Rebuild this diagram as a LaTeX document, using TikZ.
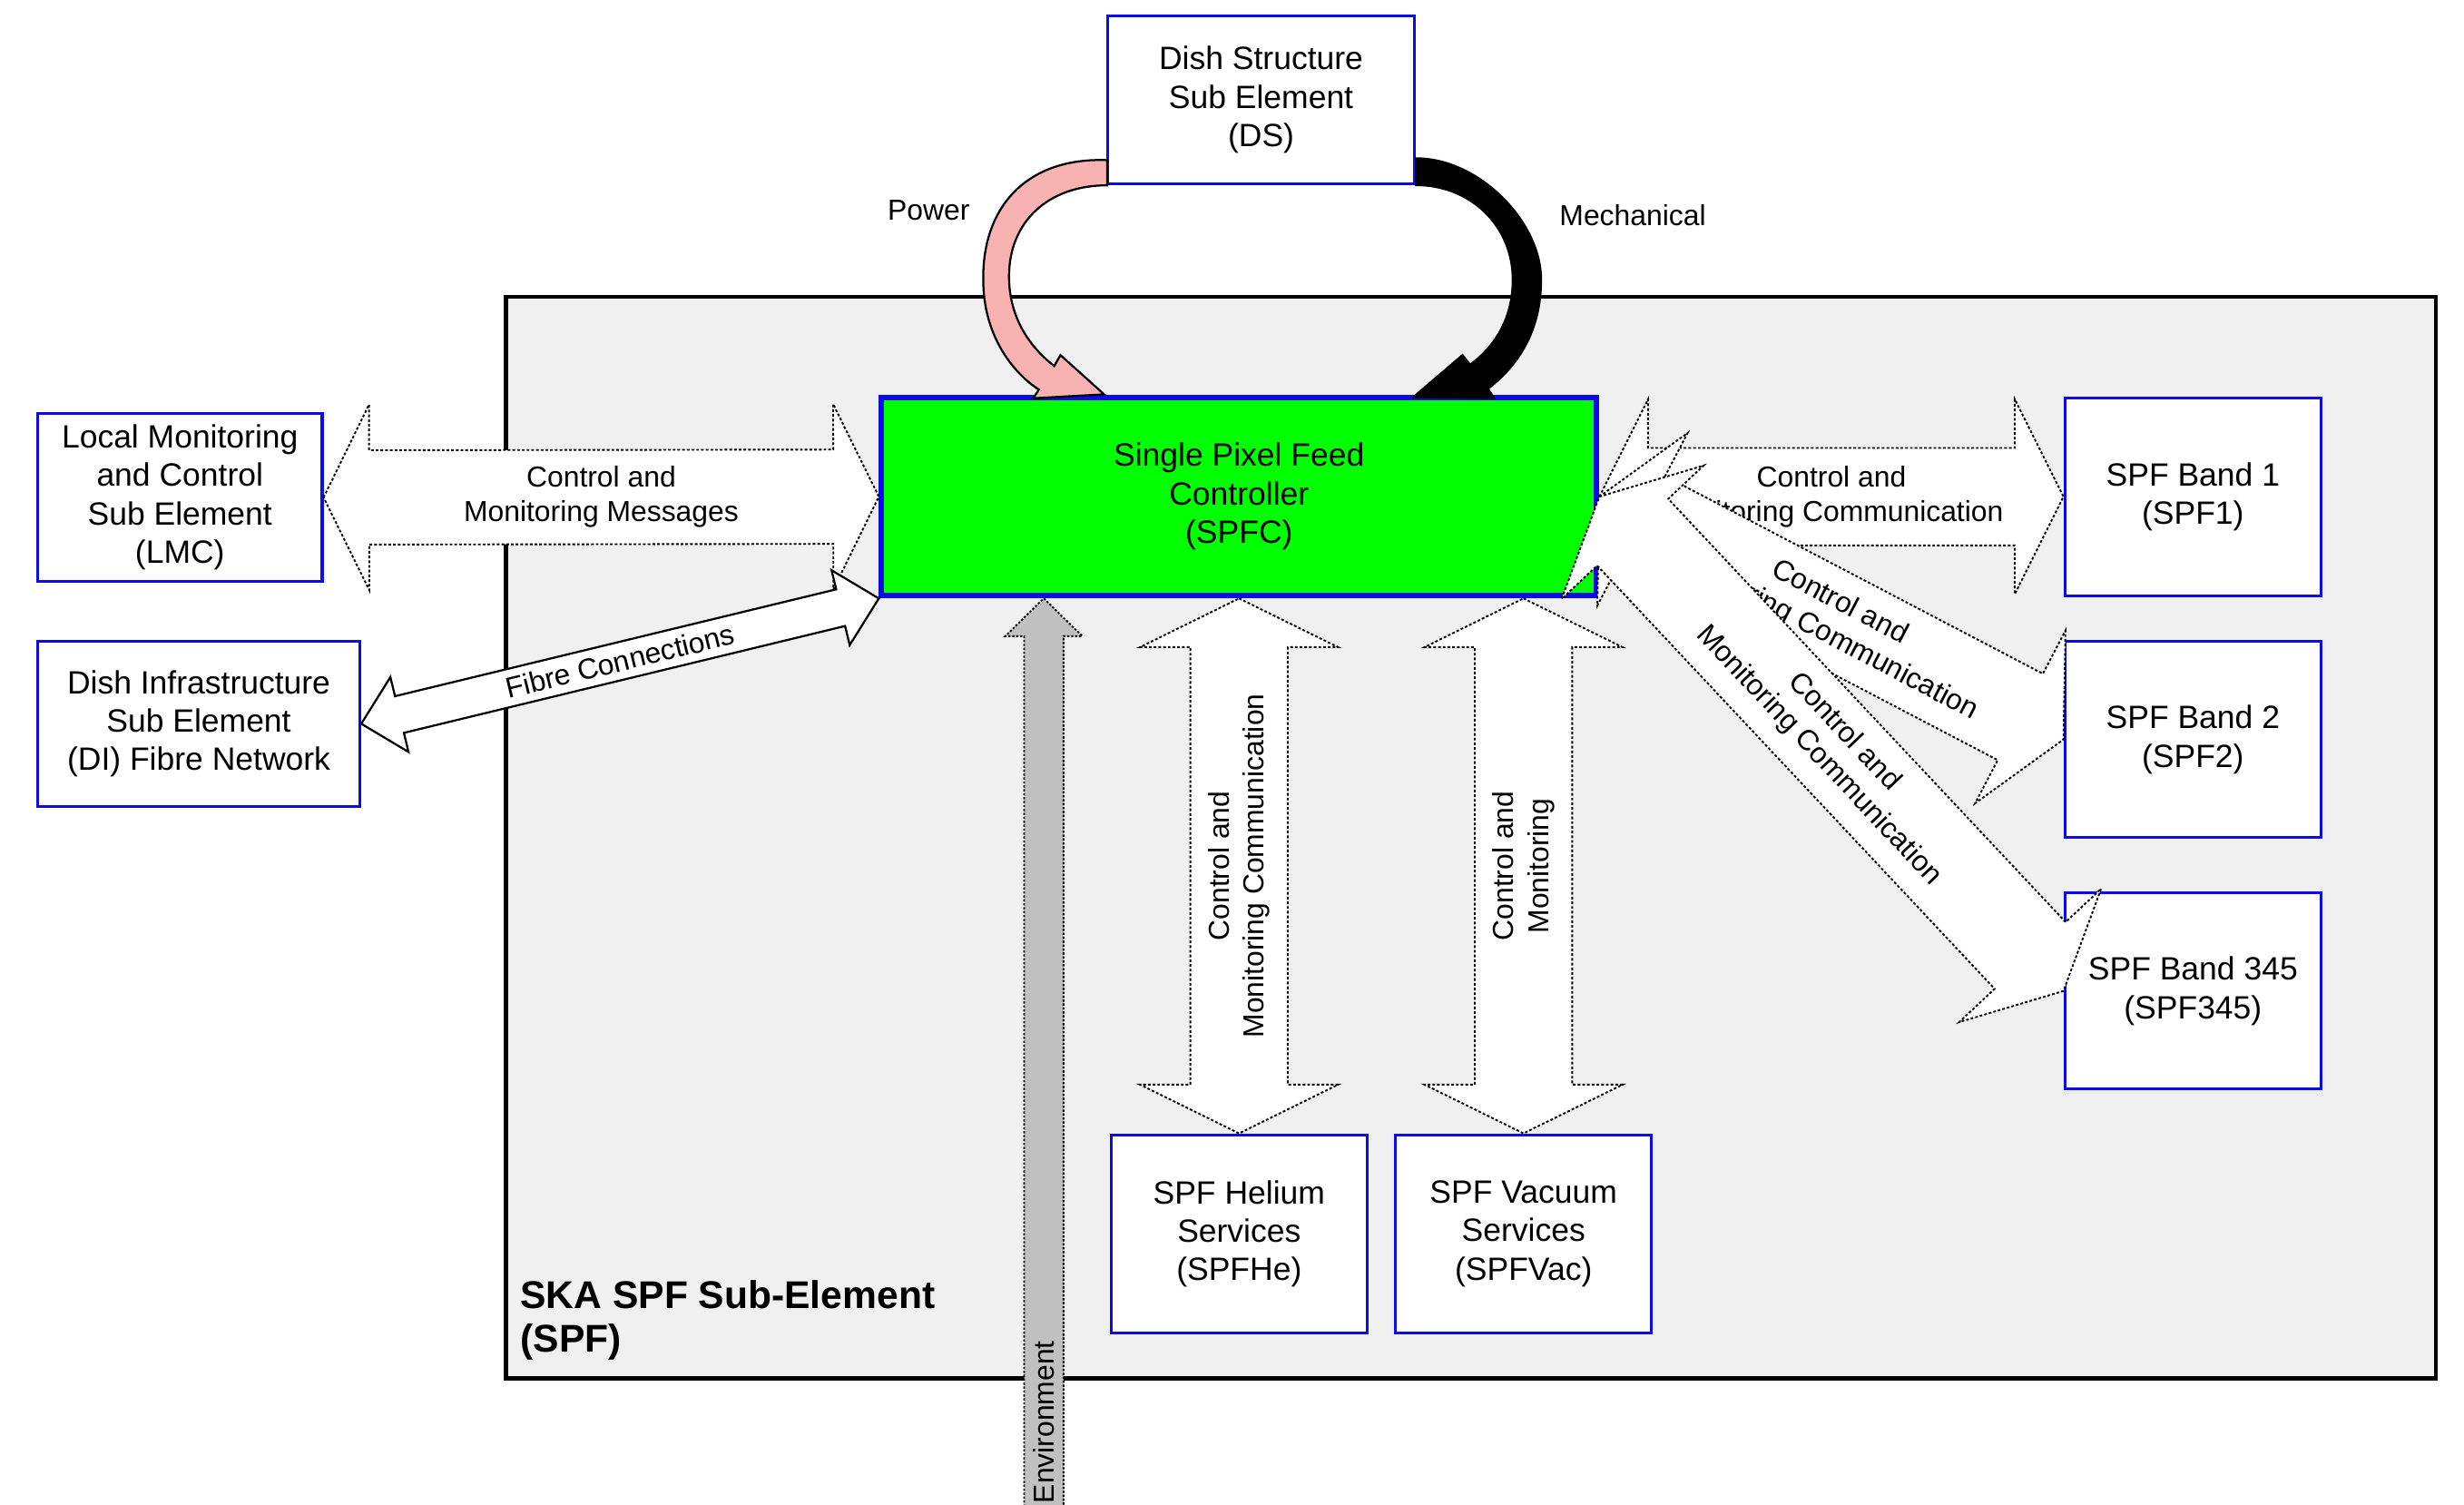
\documentclass[tikz,border=0pt]{standalone}
\usepackage{fontspec}
\setmainfont{Liberation Sans}
\usetikzlibrary{calc}
\definecolor{boxblue}{RGB}{10,10,235}
\definecolor{spfgreen}{RGB}{0,255,0}
\definecolor{panel}{RGB}{240,240,240}
\definecolor{powerpink}{RGB}{249,178,178}
\definecolor{envgray}{RGB}{192,192,192}
\newcommand{\boxfont}{\fontsize{20.5}{24.5}\selectfont}
\newcommand{\lblfont}{\fontsize{18.4}{22}\selectfont}
% #1 style, #2 tip A, #3 tip B, #4 shaft half width, #5 head half width, #6 head length, #7 label options, #8 label
\newcommand{\blockdbl}[8]{%
  \path ($(#2)!#6!(#3)$) coordinate (bdA) ($(#3)!#6!(#2)$) coordinate (bdB);
  \draw[#1] (#2) -- ($(bdA)!#5!90:(#3)$) -- ($(bdA)!#4!90:(#3)$)
    -- ($(bdB)!#4!-90:(#2)$) -- ($(bdB)!#5!-90:(#2)$) -- (#3)
    -- ($(bdB)!#5!90:(#2)$) -- ($(bdB)!#4!90:(#2)$)
    -- ($(bdA)!#4!-90:(#3)$) -- ($(bdA)!#5!-90:(#3)$) -- cycle;
  \path (#2) -- (#3) node[#7] {#8};
}
\tikzset{
  elem/.style={draw=boxblue, line width=1.8pt, fill=white, align=center, font=\boxfont, inner sep=0pt},
  ctrl/.style={elem, fill=spfgreen, line width=3.5pt},
  container/.style={draw=black, line width=2.5pt, fill=panel, inner sep=0pt},
  dotarrow/.style={fill=white, draw=black, line width=1.1pt, dash pattern=on 1.7pt off 1.3pt, line join=miter},
  solidarrow/.style={fill=white, draw=black, line width=1.3pt, line join=miter},
  lbl/.style={font=\lblfont, align=center, inner sep=0pt},
  powerarrow/.style={fill=powerpink, draw=black, line width=1.3pt, line join=miter},
  mecharrow/.style={fill=black, draw=black, line width=1pt, line join=miter},
  envarrow/.style={fill=envgray, draw=black, line width=1.1pt, dash pattern=on 1.4pt off 1.1pt}
}
\begin{document}
\begin{tikzpicture}[x=1pt, y=-1pt]
\useasboundingbox (0,0) rectangle (1568,957);
\clip (0,0) rectangle (1568,957);
\fill[white] (0,0) rectangle (1568,957);

% container
\node[container, minimum width=1228pt, minimum height=688pt] (spf) at (936,533) {};
\node[anchor=west, align=left, inner sep=0pt, font=\fontsize{24.6}{28}\selectfont\bfseries] (title) at (331,840) {SKA SPF Sub-Element\\(SPF)};

% elements
\node[elem, minimum width=195pt, minimum height=107pt] (ds) at (802.5,63.5) {Dish Structure\\Sub Element\\(DS)};
\node[elem, minimum width=181pt, minimum height=107pt] (lmc) at (114.5,316.5) {Local Monitoring\\and Control\\Sub Element\\(LMC)};
\node[elem, minimum width=205pt, minimum height=105pt] (di) at (126.5,460.5) {Dish Infrastructure\\Sub Element\\(DI) Fibre Network};
\node[ctrl, minimum width=455pt, minimum height=126pt] (spfc) at (788.5,316) {Single Pixel Feed\\Controller\\(SPFC)};
\node[elem, minimum width=163pt, minimum height=126pt] (spf1) at (1395.5,316) {SPF Band 1\\(SPF1)};
\node[elem, minimum width=163pt, minimum height=125pt] (spf2) at (1395.5,470.5) {SPF Band 2\\(SPF2)};
\node[elem, minimum width=163pt, minimum height=125pt] (spf345) at (1395.5,630.5) {SPF Band 345\\(SPF345)};
\node[elem, minimum width=163pt, minimum height=126pt] (spfhe) at (788.5,785) {SPF Helium\\Services\\(SPFHe)};
\node[elem, minimum width=163pt, minimum height=126pt] (spfvac) at (969.5,785) {SPF Vacuum\\Services\\(SPFVac)};

% labels of curved arrows
\node[lbl] (powerlbl) at (591,134) {Power};
\node[lbl] (mechlbl) at (1039,137) {Mechanical};

% Power arrow (DS -> SPFC)
\begin{scope}[shift={(ds.south west)}]
\draw[powerarrow] (0.5,-16) .. controls (-50,-18) and (-79,13) .. (-78.4,60)
  .. controls (-78.5,95) and (-60,119) .. (-43,130) -- (-46.6,135.5) -- (-1.5,133)
  -- (-29.3,108) -- (-33.2,115) .. controls (-50,102) and (-62,83) .. (-62,58)
  .. controls (-62,23) and (-37,0) .. (0.5,0) -- cycle;
\end{scope}
% Mechanical arrow (DS -> SPFC)
\begin{scope}[shift={(ds.south east)}]
\draw[mecharrow] (0,-17.3) .. controls (40,-17.6) and (80,23) .. (79.9,60)
  .. controls (80,93) and (65,115) .. (46.2,129.4) -- (50,135.5) -- (-2,135)
  -- (29.8,107.8) -- (34.6,114) .. controls (52,101) and (61.6,83) .. (61.6,60)
  .. controls (61.6,26) and (35,0) .. (0,0) -- cycle;
\end{scope}

% LMC <-> SPFC
\blockdbl{dotarrow}{lmc.east}{spfc.west}{30pt}{59pt}{29pt}{midway, lbl}{Control and\\Monitoring Messages}
% DI <-> SPFC
\blockdbl{solidarrow}{di.east}{spfc.south west}{12pt}{24.5pt}{25pt}{midway, sloped, lbl}{Fibre Connections}
% SPFC <-> SPF bands
\blockdbl{dotarrow}{spfc.east}{spf1.west}{31pt}{62pt}{31pt}{midway, lbl}{Control and\\Monitoring Communication}
\blockdbl{dotarrow}{spfc.east}{spf2.west}{31pt}{62pt}{31pt}{midway, sloped, lbl}{Control and\\Monitoring Communication}
\blockdbl{dotarrow}{spfc.east}{spf345.west}{31pt}{62pt}{31pt}{midway, sloped, lbl}{Control and\\Monitoring Communication}
% SPFC <-> services
\blockdbl{dotarrow}{spfc.south}{spfhe.north}{31pt}{63pt}{31pt}{midway, rotate=90, lbl}{Control and\\Monitoring Communication}
\coordinate (vactop) at (spfc.south -| spfvac.north);
\blockdbl{dotarrow}{vactop}{spfvac.north}{31pt}{63pt}{31pt}{midway, rotate=90, lbl}{Control and\\Monitoring}

% Environment arrow
\coordinate (envtip) at ($(spfc.south west)+(105,0)$);
\draw[envarrow] (envtip) -- ++(24.5,24) -- ++(-12,0) -- ++(0,600) -- ++(-25,0) -- ++(0,-600) -- ++(-12,0) -- cycle;
\node[lbl, rotate=90] (envlbl) at ($(envtip)+(0,524)$) {Environment};
\end{tikzpicture}
\end{document}
